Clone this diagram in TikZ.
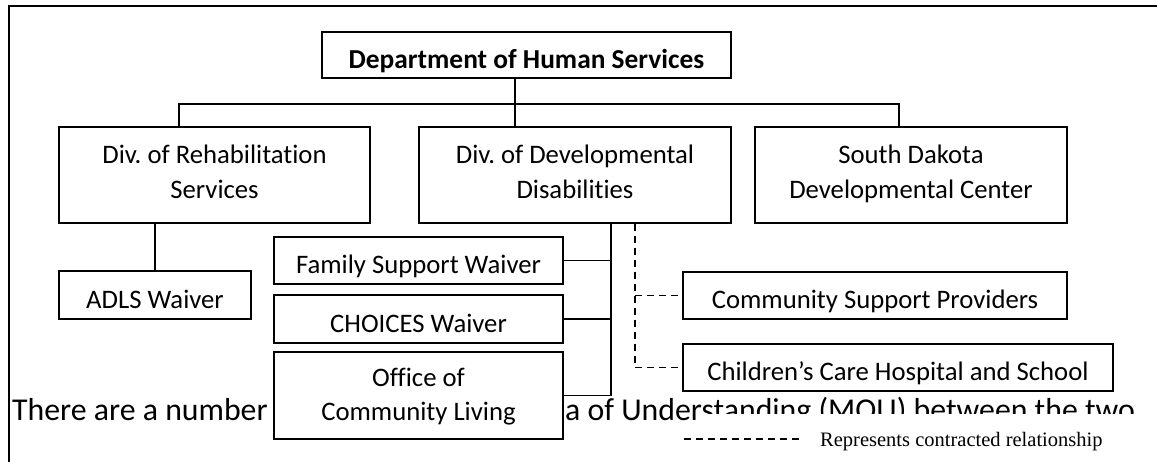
\documentclass[tikz,border=0pt]{standalone}
\usepackage{fontspec}
\setmainfont{Carlito}[Ligatures={NoCommon}]
\newfontfamily\legendfont{Liberation Serif}
\frenchspacing

\begin{document}
\begin{tikzpicture}[x=1pt,y=-1pt]
   \tikzstyle{every node}=[inner sep=0pt, font=\fontsize{26.7}{35}\selectfont]
   \tikzstyle{unit}=[draw, fill=white, line width=1.4pt]
   \tikzstyle{oneline}=[text height=27pt, text depth=0pt]
   \tikzstyle{twoline}=[align=center, text height=53pt, text depth=5pt]
   \tikzstyle{link}=[line width=1.4pt]
   \tikzstyle{contract}=[line width=1.4pt, dash pattern=on 7pt off 5pt]
   \tikzstyle{para}=[anchor=base west, font=\fontsize{31.8}{38}\selectfont]

\useasboundingbox (0,0) rectangle (1157,462);
\draw[link] (9,462) |- (1157,6);

\node[para] (mou1) at (12,420) {There are a number};
\begin{scope}
   \clip (0,0) rectangle (1157,413) (0,413) rectangle (700,462);
   \node[para] (mou2) at (565,420) {a of Understanding (MOU) between the two};
\end{scope}

\node[unit, oneline, minimum width=409pt, minimum height=46pt, font=\bfseries\fontsize{27.4}{35}\selectfont] (dhs) at (526.5,55) {Department of Human Services};

\node[unit, twoline, minimum width=311pt, minimum height=96pt] (drs) at (214.5,175) {Div. of Rehabilitation\\Services};
\node[unit, twoline, minimum width=312pt, minimum height=96pt] (ddd) at (575,175) {Div. of Developmental\\Disabilities};
\node[unit, twoline, minimum width=312pt, minimum height=96pt] (sddc) at (911,175) {South Dakota\\Developmental Center};

\node[unit, oneline, minimum width=192pt, minimum height=48pt] (adls) at (155,295) {ADLS Waiver};

\node[unit, oneline, minimum width=289pt, minimum height=47pt] (fsw) at (418.5,260.5) {Family Support Waiver};
\node[unit, oneline, minimum width=289pt, minimum height=48pt] (choices) at (418.5,319) {CHOICES Waiver};
\node[unit, twoline, text height=51pt, text depth=2pt, font=\fontsize{26.7}{33}\selectfont, minimum width=289pt, minimum height=87pt] (ocl) at (418.5,395.5) {Office of\\Community Living};

\node[unit, oneline, minimum width=384pt, minimum height=47pt] (csp) at (875,295.5) {Community Support Providers};
\node[unit, oneline, minimum width=430pt, minimum height=47pt] (cchs) at (898,367.5) {Children’s Care Hospital and School};

\coordinate (tapD) at (515,104);
\coordinate (tapR) at (179,104);
\coordinate (tapS) at (899,104);
\coordinate (spine) at (611,0);
\coordinate (dspine) at (635,0);

\draw[link] (dhs.south -| tapD) -- (ddd.north -| tapD);
\draw[link] (drs.north -| tapR) |- (tapS) -- (sddc.north -| tapS);
\draw[link] (adls.north |- drs.south) -- (adls.north);

\draw[link] (ddd.south -| spine) |- (ocl.east);
\draw[link] (fsw.east) -- (fsw.east -| spine);
\draw[link] (choices.east) -- (choices.east -| spine);

\draw[contract] (ddd.south -| dspine) |- (cchs.west);
\draw[contract] (csp.west -| dspine) -- (csp.west);

\node[anchor=base west, font=\legendfont\fontsize{20.5}{24}\selectfont] (legend) at (820,446) {Represents contracted relationship};
\coordinate (keystart) at (684,439);
\draw[contract] (keystart) -- ++(118,0);

\end{tikzpicture}
\end{document}
